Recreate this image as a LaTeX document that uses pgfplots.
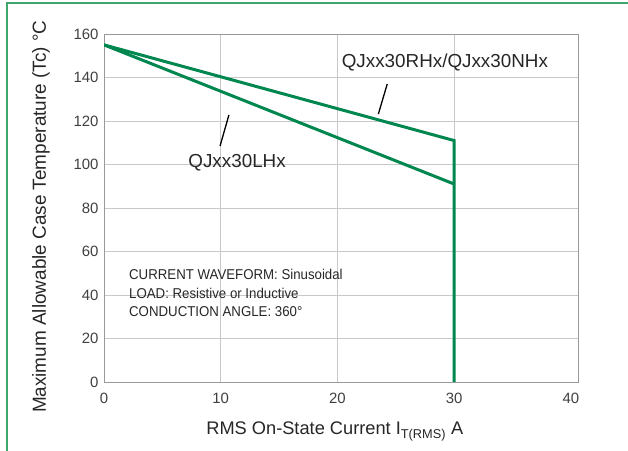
\documentclass[border=0pt]{standalone}
\usepackage{fontspec}
\setmainfont{Liberation Sans}
\newfontfamily\narrowfont[FakeStretch=0.93]{Liberation Sans}
\usepackage{pgfplots}
\pgfplotsset{compat=1.18}
\definecolor{curvegreen}{HTML}{00874F}
\definecolor{framegreen}{HTML}{3FA66E}
\definecolor{gridgray}{HTML}{C8C8C8}
\definecolor{tickgray}{HTML}{404040}

\begin{document}
\begin{tikzpicture}
\path[use as bounding box] (0,0) rectangle (628bp,451bp);
\begin{axis}[
    at={(104bp,69bp)}, anchor=south west,
    scale only axis, width=474bp, height=348bp,
    xmin=0, xmax=40.6, ymin=0, ymax=160,
    xtick={0,10,20,30}, ytick={0,20,...,160},
    extra x ticks={40}, extra x tick style={grid=none},
    grid=major, grid style={gridgray, line width=0.9bp},
    axis line style={draw=black!40, line width=0.9bp},
    major tick length=0pt,
    /pgf/number format/assume math mode=true,
    ticklabel style={font=\fontsize{15}{18}\selectfont, text=tickgray},
    xticklabel style={yshift=-8bp},
    yticklabel style={xshift=-2bp},
    xlabel={RMS On-State Current I\textsubscript{T(RMS)} A},
    ylabel={Maximum Allowable Case Temperature (Tc) °C},
    xlabel style={at={(axis description cs:0.487,-0.142)}, anchor=center,
        font=\fontsize{18.3}{20}\selectfont, text=black!85},
    ylabel style={at={(axis description cs:-0.133,0.475)}, anchor=center,
        font=\fontsize{19}{21}\selectfont, text=black!85},
]
% RHx / NHx
\addplot[curvegreen, line width=3bp] coordinates {(0,155) (30,111) (30,0)};
% LHx
\addplot[curvegreen, line width=3bp] coordinates {(0,155) (30,91)};

\node[font=\fontsize{18.9}{21}\selectfont, text=black!85, inner sep=0pt]
    at (axis cs:29.2,146.7) {QJxx30RHx/QJxx30NHx};
\draw[black, line width=1.3bp] (axis cs:24.26,137) -- (axis cs:23.5,123.2);
\node[font=\fontsize{18.9}{21}\selectfont, text=black!85, inner sep=0pt]
    at (axis cs:11.4,100.7) {QJxx30LHx};
\draw[black, line width=1.3bp] (axis cs:10.7,122.8) -- (axis cs:9.94,108.5);

\node[anchor=north west, align=left, inner sep=0pt, text=black!85,
    font=\narrowfont\fontsize{14.3}{18.6}\selectfont]
    at (axis cs:2.14,51.8) {CURRENT WAVEFORM: Sinusoidal\\LOAD: Resistive or Inductive\\CONDUCTION ANGLE: 360°};
\end{axis}
\draw[framegreen, line width=1.5bp] (7bp,0) -- (7bp,448bp) -- (628bp,448bp);
\end{tikzpicture}
\end{document}
